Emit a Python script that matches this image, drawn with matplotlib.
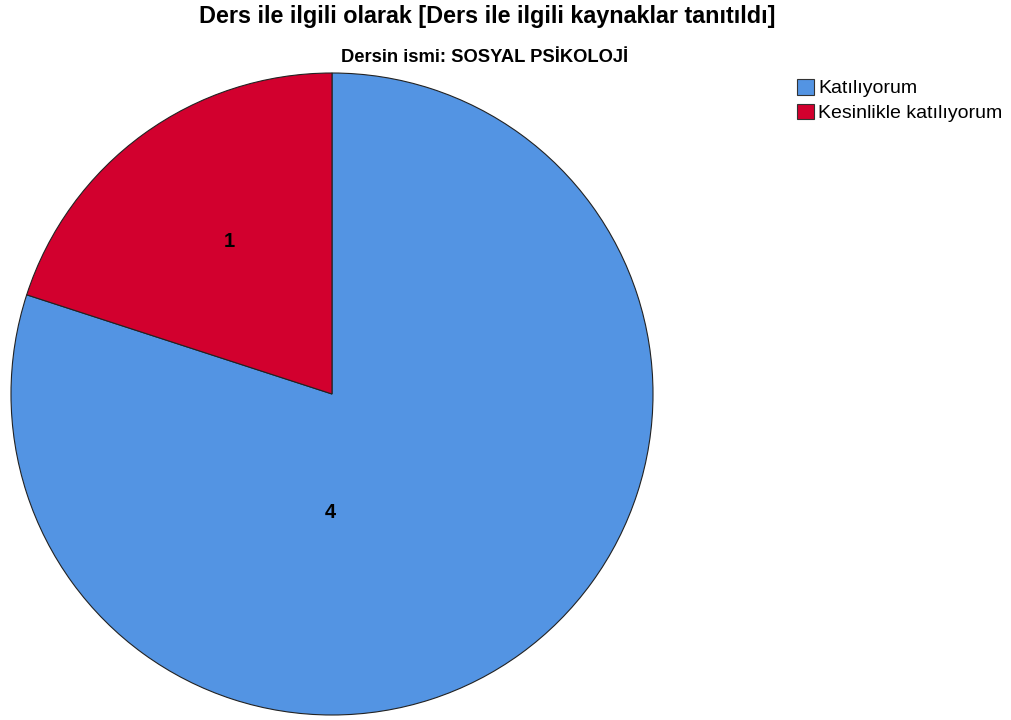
import matplotlib.pyplot as plt
from matplotlib.patches import Patch

categories = ['Katılıyorum', 'Kesinlikle katılıyorum']
counts = [4, 1]
colors = ['#5394E3', '#D2002E']

plt.rcParams['font.family'] = ['Liberation Sans', 'DejaVu Sans']

fig = plt.figure(figsize=(10.11, 7.2), dpi=100)
ax = fig.add_axes([11/1011, 5/720, 642/1011, 642/720])

wedges, _ = ax.pie(counts, colors=colors, startangle=90, counterclock=False,
                   radius=1, wedgeprops=dict(edgecolor='#222222', linewidth=0.8))
ax.set_xlim(-1, 1)
ax.set_ylim(-1, 1)
ax.set_aspect('equal')
ax.axis('off')

# value labels (placed like SPSS does)
ax.text(-0.32, 0.475, str(counts[1]), ha='center', va='center', fontsize=14.5, fontweight='bold')
ax.text(-0.005, -0.37, str(counts[0]), ha='center', va='center', fontsize=14.5, fontweight='bold')

fig.text(0.482, 1 - 17/720, 'Ders ile ilgili olarak [Ders ile ilgili kaynaklar tanıtıldı]',
         ha='center', va='center', fontsize=16.8, fontweight='bold')
fig.text(0.479, 1 - 57/720, 'Dersin ismi: SOSYAL PSİKOLOJİ',
         ha='center', va='center', fontsize=13.2, fontweight='bold', fontstretch='condensed')

handles = [Patch(facecolor=c, edgecolor='#333333', linewidth=0.8) for c in colors]
fig.legend(handles, categories, loc='upper left', bbox_to_anchor=(797/1011, 1 - 79/720),
           frameon=False, fontsize=14, handlelength=0.85, handleheight=0.85,
           handletextpad=0.25, labelspacing=0.32, borderpad=0, borderaxespad=0)

plt.savefig('out.png', dpi=100)
